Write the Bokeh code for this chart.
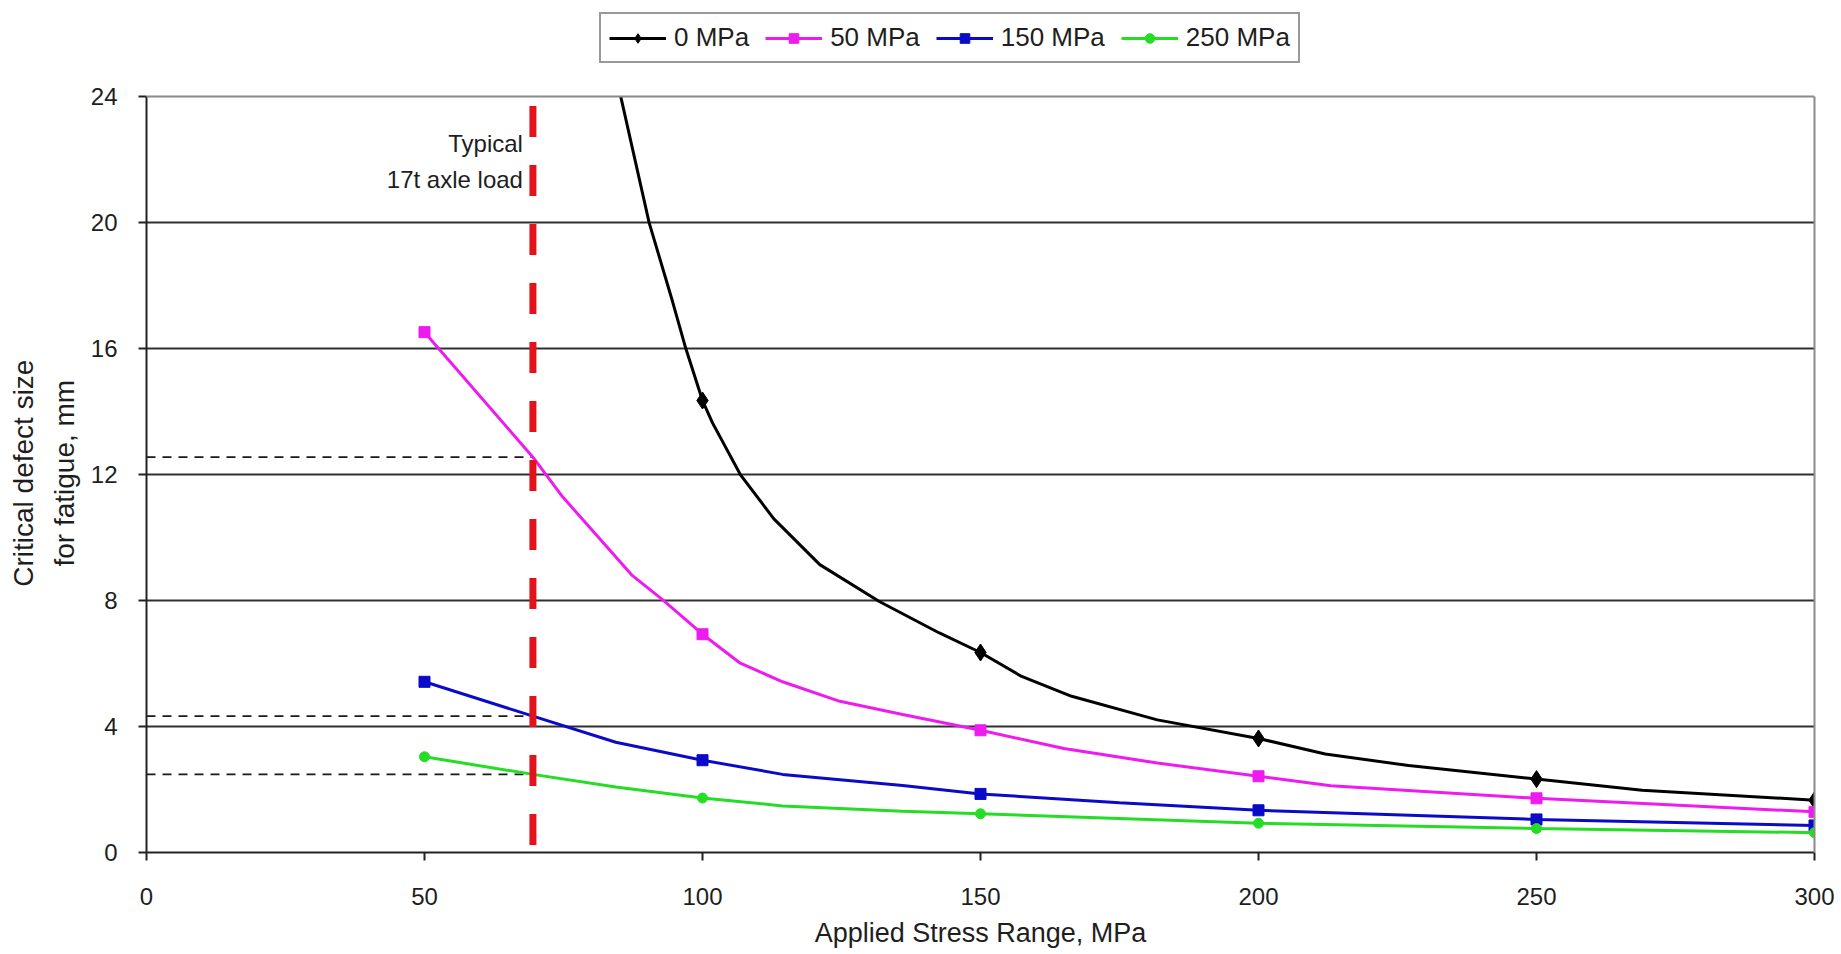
from bokeh.plotting import figure
from bokeh.models import (Range1d, Legend, LegendItem, Label, FixedTicker,
                          LinearAxis, Span)
from bokeh.embed import file_html
from bokeh.resources import INLINE

# ---------------- data ----------------
stress_ticks = [0, 50, 100, 150, 200, 250, 300]
size_ticks = [0, 4, 8, 12, 16, 20, 24]
series_labels = ["0 MPa", "50 MPa", "150 MPa", "250 MPa"]

# 0 MPa residual stress curve
x_0 = [85.3, 90.4, 94.6, 97.0, 100.0, 101.8, 106.8, 112.8, 121.1, 131.8, 142.6,
       150.0, 157.4, 166.4, 181.8, 200.0, 212.0, 227.0, 250.0, 269.0, 300.0]
y_0 = [24.0, 20.0, 17.5, 16.0, 14.35, 13.64, 12.0, 10.6, 9.14, 7.97, 6.97,
       6.35, 5.59, 4.96, 4.21, 3.62, 3.13, 2.76, 2.33, 1.98, 1.66]
mx_0 = [100, 150, 200, 250, 300]
my_0 = [14.35, 6.35, 3.62, 2.33, 1.66]

# 50 MPa
x_50 = [50.0, 69.5, 74.8, 87.4, 92.8, 100.0, 106.8, 114.4, 124.7, 136.0, 150.0,
        165.0, 181.8, 200.0, 213.0, 250.0, 300.0]
y_50 = [16.52, 12.55, 11.3, 8.79, 8.03, 6.93, 6.01, 5.42, 4.8, 4.38, 3.88,
        3.3, 2.84, 2.42, 2.12, 1.72, 1.29]
mx_50 = [50, 100, 150, 200, 250, 300]
my_50 = [16.52, 6.93, 3.88, 2.42, 1.72, 1.29]

# 150 MPa
x_150 = [50.0, 69.5, 84.4, 100.0, 114.4, 136.0, 150.0, 175.0, 200.0, 250.0, 300.0]
y_150 = [5.42, 4.33, 3.5, 2.93, 2.48, 2.13, 1.86, 1.58, 1.34, 1.05, 0.86]
mx_150 = [50, 100, 150, 200, 250, 300]
my_150 = [5.42, 2.93, 1.86, 1.34, 1.05, 0.86]

# 250 MPa
x_250 = [50.0, 69.5, 84.4, 100.0, 114.4, 136.0, 150.0, 200.0, 250.0, 300.0]
y_250 = [3.04, 2.48, 2.08, 1.73, 1.48, 1.31, 1.23, 0.93, 0.76, 0.63]
mx_250 = [50, 100, 150, 200, 250, 300]
my_250 = [3.04, 1.73, 1.23, 0.93, 0.76, 0.63]

# typical 17t axle load
axle_stress = 69.5
axle_line_top = 23.7
axle_sizes = [12.55, 4.33, 2.48]

FONT = "Liberation Sans"
TXT = "#1e1e1e"

Y_MAX = size_ticks[-1]
# frame extends above the plot area to host the legend (3.05 units = 96 px)
p = figure(width=1841, height=954,
           x_range=Range1d(0, 300), y_range=Range1d(0, Y_MAX + 3.05),
           output_backend="svg", toolbar_location=None,
           min_border_left=146, min_border_right=27,
           min_border_top=0, min_border_bottom=102)
p.background_fill_color = "white"
p.border_fill_color = "white"
p.outline_line_color = None

# axes
p.xaxis.ticker = FixedTicker(ticks=stress_ticks)
p.yaxis.ticker = FixedTicker(ticks=size_ticks)
p.yaxis.bounds = (0, Y_MAX)
for ax in (p.xaxis[0], p.yaxis[0]):
    ax.axis_line_color = "#222222"
    ax.axis_line_width = 2
    ax.major_tick_line_color = "#222222"
    ax.major_tick_line_width = 2
    ax.major_tick_in = 0
    ax.major_tick_out = 8
    ax.minor_tick_line_color = None
    ax.major_label_text_font = FONT
    ax.major_label_text_font_size = "24px"
    ax.major_label_text_color = TXT
    ax.axis_label_text_font = FONT
    ax.axis_label_text_font_style = "normal"
    ax.axis_label_text_color = TXT
p.xaxis.major_label_standoff = 27
p.yaxis.major_label_standoff = 21
p.xaxis.axis_label = "Applied Stress Range, MPa"
p.xaxis.axis_label_text_font_size = "27px"
p.xaxis.axis_label_standoff = 10
# trailing no-break spaces centre the label on the 0-24 plot area
pad = "\u00a0" * 12
p.yaxis.axis_label = "Critical defect size" + pad + "\nfor fatigue, mm" + pad
p.yaxis.axis_label_text_font_size = "28px"
p.yaxis.axis_label_text_line_height = 1.32
p.yaxis.axis_label_standoff = 8

# right border of the plot area
right_edge = LinearAxis(ticker=FixedTicker(ticks=[]), bounds=(0, Y_MAX),
                        axis_line_color="#8a8a8a", axis_line_width=2,
                        major_tick_line_color=None, minor_tick_line_color=None,
                        major_label_text_font_size="0px")
p.add_layout(right_edge, "right")

p.xgrid.visible = False
p.ygrid.ticker = FixedTicker(ticks=size_ticks[1:-1])
p.ygrid.grid_line_color = "#303030"
p.ygrid.grid_line_width = 2
p.add_layout(Span(location=Y_MAX, dimension="width", line_color="#8a8a8a",
                  line_width=2))

# guide lines at the axle load
for s in axle_sizes:
    p.line([0, axle_stress], [s, s], line_color="#1a1a1a", line_width=1.8,
           line_dash="9 7")

# curves
l0 = p.line(x_0, y_0, line_color="black", line_width=3)
s0 = p.scatter(mx_0, my_0, marker="diamond", size=17, color="black")
l50 = p.line(x_50, y_50, line_color="#ee1bee", line_width=3)
s50 = p.scatter(mx_50, my_50, marker="square", size=11, color="#ee1bee")
l150 = p.line(x_150, y_150, line_color="#0a0ac8", line_width=3)
s150 = p.scatter(mx_150, my_150, marker="square", size=11, color="#0a0ac8")
l250 = p.line(x_250, y_250, line_color="#25dd25", line_width=3)
s250 = p.scatter(mx_250, my_250, marker="circle", size=10, color="#25dd25")

# red dashed axle-load line
p.line([axle_stress, axle_stress], [axle_line_top, 0], line_color="#e3131b",
       line_width=7, line_dash="31 28")

for txt, yy in (("Typical", 22.52), ("17t axle load", 21.38)):
    p.add_layout(Label(x=axle_stress, y=yy, x_offset=-10, text=txt,
                       text_align="right", text_baseline="alphabetic",
                       text_font=FONT, text_font_size="24px", text_color=TXT))

legend = Legend(items=[
    LegendItem(label=series_labels[0], renderers=[l0, s0]),
    LegendItem(label=series_labels[1], renderers=[l50, s50]),
    LegendItem(label=series_labels[2], renderers=[l150, s150]),
    LegendItem(label=series_labels[3], renderers=[l250, s250]),
], orientation="horizontal", location=(453, 789))
legend.label_text_font = FONT
legend.label_text_font_size = "26px"
legend.label_text_color = TXT
legend.glyph_width = 57
legend.glyph_height = 24
legend.label_standoff = 8
legend.spacing = 16
legend.padding = 8
legend.margin = 0
legend.border_line_color = "#333333"
legend.border_line_width = 2
legend.background_fill_alpha = 1
p.add_layout(legend)

open("out.html", "w").write(file_html(p, INLINE))
